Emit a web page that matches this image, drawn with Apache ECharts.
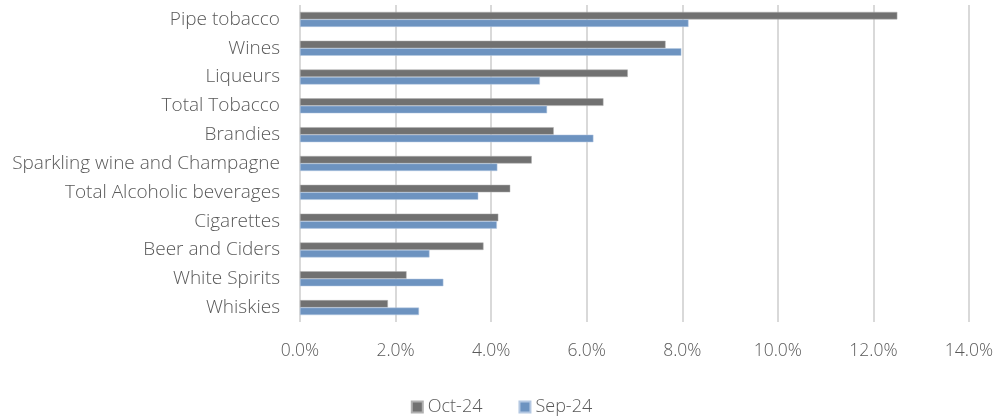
<!DOCTYPE html>
<html>
<head>
<meta charset="utf-8">
<script src="https://cdn.jsdelivr.net/npm/echarts@6/dist/echarts.min.js"></script>
<style>
  html, body { margin: 0; padding: 0; background: #fff; }
  #chart { width: 1003px; height: 418px; }
</style>
</head>
<body>
<div id="chart"></div>
<script>
var categories = [
  "Pipe tobacco", "Wines", "Liqueurs", "Total Tobacco", "Brandies",
  "Sparkling wine and Champagne", "Total Alcoholic beverages", "Cigarettes",
  "Beer and Ciders", "White Spirits", "Whiskies"
];
var oct24 = [12.50, 7.65, 6.86, 6.35, 5.31, 4.85, 4.40, 4.15, 3.84, 2.23, 1.84];
var sep24 = [8.13, 7.98, 5.02, 5.17, 6.14, 4.13, 3.73, 4.12, 2.71, 3.00, 2.49];

var font = "'Open Sans', 'Noto Sans', sans-serif";
var chart = echarts.init(document.getElementById("chart"));
chart.setOption({
  animation: false,
  grid: { left: 300, right: 34, top: 5, bottom: 96 },
  legend: {
    bottom: -3,
    left: "center",
    itemWidth: 11,
    itemHeight: 11,
    itemGap: 36,
    icon: "rect",
    textStyle: { fontFamily: font, fontSize: 18, color: "#595959", fontWeight: 300 },
    data: ["Oct-24", "Sep-24"]
  },
  xAxis: {
    type: "value",
    min: 0,
    max: 14,
    interval: 2,
    axisLine: { show: false },
    axisTick: { show: false },
    splitLine: { lineStyle: { color: "#d9d9d9", width: 2 } },
    axisLabel: {
      margin: 20,
      fontFamily: font,
      fontSize: 17.5,
      fontWeight: 300,
      color: "#595959",
      formatter: function (v) { return v.toFixed(1) + "%"; }
    }
  },
  yAxis: {
    type: "category",
    inverse: true,
    data: categories,
    axisLine: { show: false },
    axisTick: { show: false },
    axisLabel: {
      margin: 20,
      fontFamily: font,
      fontSize: 19,
      fontWeight: 300,
      color: "#595959"
    }
  },
  series: [
    {
      name: "Oct-24",
      type: "bar",
      data: oct24,
      barGap: "0%",
      barCategoryGap: "48%",
      itemStyle: { color: "#717171", borderColor: "#b0b0b0", borderWidth: 0.5 }
    },
    {
      name: "Sep-24",
      type: "bar",
      data: sep24,
      itemStyle: { color: "#6d93c0", borderColor: "#b4c8e2", borderWidth: 0.5 }
    }
  ]
});
</script>
</body>
</html>
